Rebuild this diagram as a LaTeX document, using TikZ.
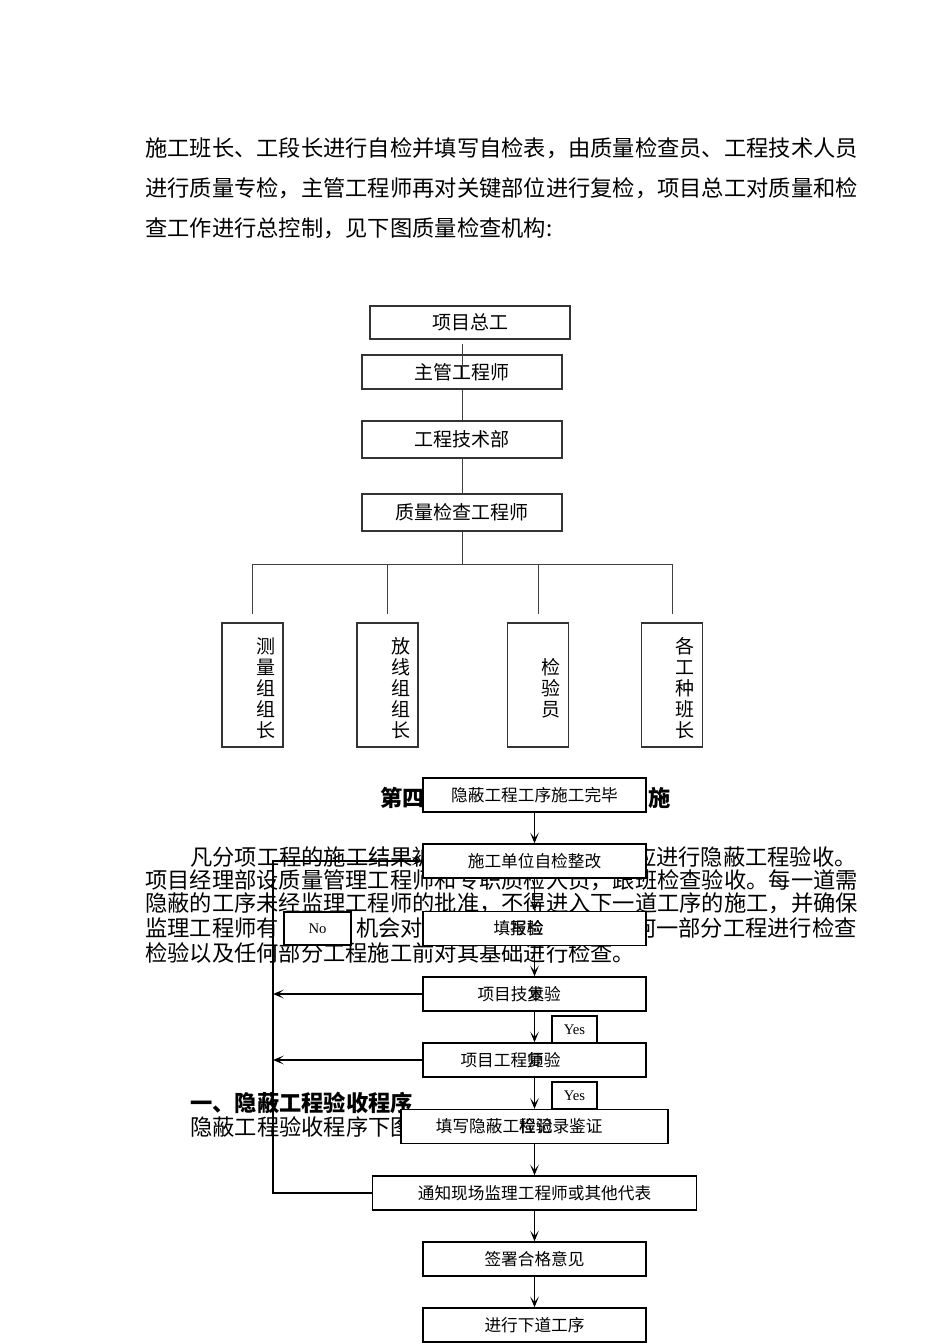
\documentclass[tikz,border=0pt]{standalone}
\usepackage{fontspec}
\setmainfont{Liberation Serif}
\newfontfamily\cjk{Noto Sans CJK SC}
\usepackage{tikz}
\usetikzlibrary{arrows.meta, positioning}

\newcommand\ovl[2]{\makebox[1em]{\makebox[0pt]{#1}\makebox[0pt]{#2}}}

\begin{document}
\begin{tikzpicture}[
    x=0.75pt, y=-0.75pt,
    body/.style={font=\cjk\fontsize{16.7}{20}\selectfont, inner sep=0pt},
    head/.style={font=\cjk\bfseries\fontsize{16.7}{20}\selectfont, inner sep=0pt},
    org/.style={rectangle, draw=black!80, line width=0.8pt, minimum width=150pt, font=\cjk\fontsize{14.25}{16}\selectfont},
    vbox/.style={rectangle, draw=black!80, line width=0.8pt, minimum width=45.75pt, minimum height=93pt},
    vtext/.style={font=\cjk\fontsize{14.25}{15.75}\selectfont, align=center, inner sep=0pt},
    orgline/.style={draw=black!75, line width=0.7pt},
    flow/.style={rectangle, draw, fill=white, line width=1.05pt, minimum width=167.25pt, minimum height=25.5pt, font=\cjk\fontsize{12.5}{14}\selectfont, inner sep=0pt},
    tag/.style={rectangle, draw, fill=white, line width=1.05pt, font=\fontsize{11}{13}\selectfont, inner sep=0pt},
    arrow/.style={-{Stealth[length=8pt, width=6.5pt, inset=4pt]}, line width=1pt}
]
    \useasboundingbox (0,0) rectangle (950,1344);

    % running text of the page
    \node [body, anchor=west] (p1) at (145,148) {施工班长、工段长进行自检并填写自检表，由质量检查员、工程技术人员};
    \node [body, anchor=west] (p2) at (145,188) {进行质量专检，主管工程师再对关键部位进行复检，项目总工对质量和检};
    \node [body, anchor=west] (p3) at (145,228) {查工作进行总控制，见下图质量检查机构:};

    \node [head, anchor=east] (h4a) at (425,798) {第四};
    \node [head, anchor=west] (h4b) at (648,798) {施};
    \node [body, anchor=west] (q1a) at (190,857) {凡分项工程的施工结果被};
    \node [body, anchor=east] (q1b) at (857,857) {应进行隐蔽工程验收。};
    \node [body, anchor=west] (q2) at (145,880) {项目经理部设质量管理工程师和专职质检人员，跟班检查验收。每一道需};
    \node [body, anchor=west] (q3) at (145,903) {隐蔽的工序未经监理工程师的批准，不得进入下一道工序的施工，并确保};
    \node [body, anchor=west] (q4a) at (145,928) {监理工程师有};
    \node [body, anchor=west] (q4b) at (356,928) {机会对即};
    \node [body, anchor=east] (q4c) at (857,928) {何一部分工程进行检查};
    \node [body, anchor=west] (q5) at (145,953) {检验以及任何部分工程施工前对其基础进行检查。};
    \node [head, anchor=west] (h1) at (190,1103) {一、隐蔽工程验收程序};
    \node [body, anchor=west] (q6) at (190,1127) {隐蔽工程验收程序下图};

    % quality check organisation
    \node [org, minimum height=24.75pt] (zg) at (470,322.5) {项目总工};
    \node [org, minimum height=25.5pt] (zggcs) at (462,372) {主管工程师};
    \node [org, minimum height=27.75pt] (jsb) at (462,439.5) {工程技术部};
    \node [org, minimum height=27.75pt] (zjgcs) at (462,512.5) {质量检查工程师};
    \node [vbox] (cl) at (252.5,685) {};
    \node [vbox] (fx) at (387.5,685) {};
    \node [vbox] (jy) at (538,685) {};
    \node [vbox] (gz) at (672,685) {};
    \node [vtext] (cltx) at (266,688) {测\\量\\组\\组\\长};
    \node [vtext] (fxtx) at (401,688) {放\\线\\组\\组\\长};
    \node [vtext] (jytx) at (551,688) {检\\验\\员};
    \node [vtext] (gztx) at (685,688) {各\\工\\种\\班\\长};
    \coordinate (bus) at (462,564);
    \draw [orgline] ([yshift=8pt]zggcs.north) -- ([yshift=-18pt]zggcs.north);
    \draw [orgline] (zggcs.south) -- (jsb.north);
    \draw [orgline] (jsb.south) -- (zjgcs.north);
    \draw [orgline] (zjgcs.south) -- (bus);
    \draw [orgline] (cl.north |- bus) -- (gz.north |- bus);
    \foreach \n in {cl,fx,jy,gz}
        \draw [orgline] (\n.north |- bus) -- ([yshift=6pt]\n.north);

    % acceptance procedure for concealed work
    \node [flow] (wb) at (534.5,795) {隐蔽工程工序施工完毕};
    \node [flow] (zj) at (534.5,861) {施工单位自检整改};
    \node [flow] (by) at (534.5,928.5) {\hspace*{-24pt}填\ovl{写}{报}\ovl{检}{验}};
    \node [flow] (jsfy) at (534.5,994) {\hspace*{-23pt}项目技\ovl{术}{复}验};
    \node [flow] (gcfy) at (534.5,1060) {\hspace*{-36pt}项目工程\ovl{师}{复}验};
    \node [flow, minimum width=200.25pt] (jl) at (534.5,1126.5) {\hspace*{-23pt}填写隐蔽工\ovl{程}{检}\ovl{验}{记}录鉴证};
    \node [flow, minimum width=243pt] (tz) at (534.5,1193) {通知现场监理工程师或其他代表};
    \node [flow] (qs) at (534.5,1259) {签署合格意见};
    \node [flow] (jx) at (534.5,1325) {进行下道工序};
    \node [tag, minimum width=50.25pt, minimum height=24.75pt] (no) at (317.5,928.5) {No};
    \node [tag, minimum width=33.75pt, minimum height=20.25pt] (yes1) at (574.5,1029.5) {Yes};
    \node [tag, minimum width=33.75pt, minimum height=20.25pt] (yes2) at (574.5,1095.5) {Yes};

    \foreach \a/\b in {wb/zj, zj/by, by/jsfy, jsfy/gcfy, gcfy/jl, jl/tz, tz/qs, qs/jx}
        \draw [arrow] (\a) -- (\b);
    \coordinate (lt) at (273,861);
    \draw [arrow] (tz.west) -| (lt) -- (zj.west);
    \draw [arrow] (jsfy.west) -- (jsfy.west -| lt);
    \draw [arrow] (gcfy.west) -- (gcfy.west -| lt);
\end{tikzpicture}
\end{document}
